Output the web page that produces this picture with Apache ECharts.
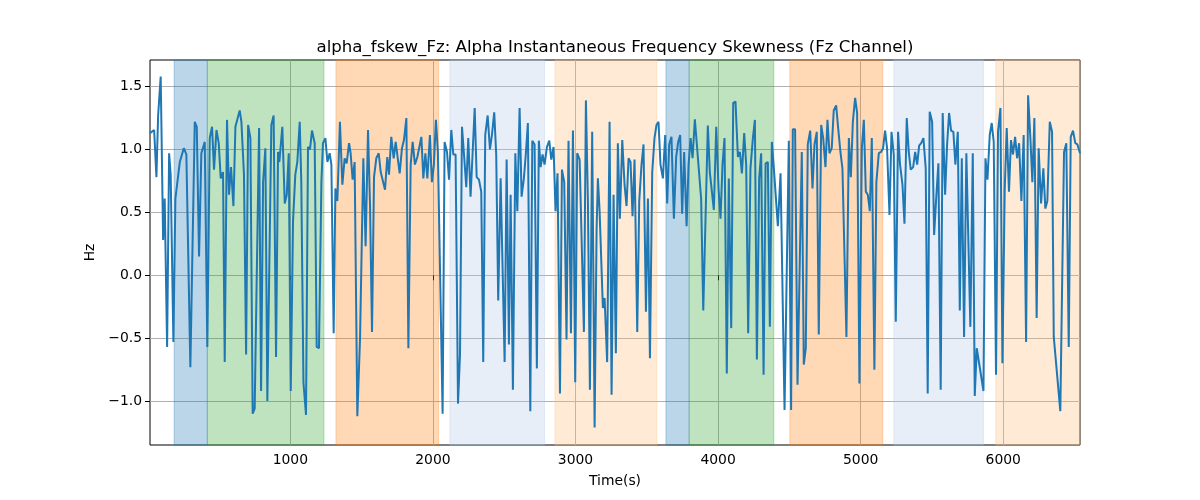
<!DOCTYPE html>
<html><head><meta charset="utf-8">
<script src="https://cdn.jsdelivr.net/npm/echarts@6/dist/echarts.min.js"></script>
<style>html,body{margin:0;padding:0;background:#fff}#c{width:1200px;height:500px}</style>
</head><body><div id="c"></div>
<script>
const times = [
 16,45,61,73,91,108,119,136,150,161,180,194,225,236,253,271,299,330,344,360,376,400,418,435,451,465,482,498,512,528,540,556,570,584,601,615,629,645,
 657,675,690,704,720,736,750,781,795,809,825,839,867,883,900,914,923,944,961,975,989,1003,1019,1035,1049,1066,1077,1092,1110,1124,1138,1152,1171,1185,1201,1218,1229,1246,1260,
 1276,1288,1304,1316,1330,1348,1365,1381,1395,1412,1423,1437,1451,1470,1489,1512,1528,1545,1559,1573,1587,1603,1620,1634,1648,1664,1680,1692,1708,1725,1739,1753,1767,1783,1797,1814,1828,1844,1858,1874,1891,
 1919,1933,1947,1961,1979,1993,2007,2021,2035,2068,2082,2099,2113,2129,2143,2159,2176,2190,2204,2220,2234,2248,2264,2278,2293,2307,2323,2339,2353,2367,2384,2400,2414,2430,2444,2458,2475,2503,2517,
 2533,2545,2561,2578,2592,2608,2622,2638,2652,2666,2683,2697,2713,2729,2743,2755,2769,2783,2800,2816,2830,2846,2860,2874,2891,2905,2921,2937,2951,2968,2982,2998,3012,3029,3059,3073,3087,3101,3117,3134,3148,
 3157,3169,3192,3204,3222,3239,3253,3267,3283,3297,3311,3328,3344,3358,3372,3386,3400,3414,3433,3447,3463,3477,3494,3508,3522,3538,3554,3568,3582,3596,3613,3629,3643,3657,3673,3690,3706,3720,3734,3748,3762,3779,3793,
 3807,3821,3837,3881,3896,3928,3942,3970,3987,4003,4017,4031,4045,4061,4075,4092,4106,4122,4139,4153,4167,4183,4197,4211,4227,4244,4258,4272,4288,4302,4319,4333,4349,4363,4377,4391,4405,
 4419,4438,4466,4496,4512,4524,4540,4557,4587,4601,4615,4629,4646,4662,4676,4692,4706,4723,4737,4753,4767,4781,4797,4811,4828,4842,4858,4872,4886,4900,4917,4931,4945,4961,4975,4991,5008,5022,5036,
 5050,5064,5078,5096,5110,5127,5143,5157,5171,5185,5202,5216,5232,5246,5262,5276,5293,5307,5323,5337,5351,5368,5382,5396,5410,5424,5440,5456,5470,5484,5501,5515,5531,5545,5561,5575,5592,5606,5620,5634,5650,5664,
 5681,5695,5709,5725,5741,5769,5786,5800,5814,5861,5875,5889,5905,5919,5933,5949,5963,5980,5994,6010,6024,6040,6054,6068,6083,6097,6111,6127,6143,6160,6174,6190,6204,6218,6234,6248,6265,6281,6295,6309,6326,6342,
 6354,6400,6426,6442,6459,6473,6489,6505,6520,6538
];
const values = [
 1.13,1.155,0.78,1.27,1.58,0.28,0.61,-0.57,0.97,0.80,-0.53,0.61,0.90,0.90,1.01,0.96,-0.73,1.22,1.18,0.15,0.97,1.06,-0.57,1.09,1.18,0.84,1.155,1.05,0.77,0.82,-0.69,1.235,0.64,0.86,0.55,1.18,1.17,1.31,
 1.22,0.80,-0.63,1.195,1.09,-1.10,-1.06,1.17,-0.92,0.74,1.01,-1.00,1.195,1.27,-0.65,0.98,0.90,1.18,0.57,0.64,0.97,-0.92,0.43,0.80,0.90,1.22,0.74,-0.85,-1.11,1.02,1.00,1.15,1.05,-0.57,-0.58,0.74,1.05,1.09,0.90,
 0.97,0.88,-0.46,0.69,0.59,1.22,0.72,0.93,0.89,1.05,0.97,0.76,0.90,-1.12,-0.50,0.93,0.23,1.155,0.56,-0.45,0.78,0.93,0.97,0.82,0.81,0.68,0.94,0.80,1.10,0.93,1.06,1.075,0.81,1.01,1.075,1.25,-0.58,0.88,1.06,0.88,0.94,
 1.10,0.77,0.97,0.77,1.115,0.74,0.88,1.235,0.98,-1.10,1.06,0.98,0.76,1.155,0.96,0.96,-1.02,-0.63,1.18,0.93,0.70,1.09,0.625,0.96,1.33,0.78,0.76,0.665,-0.69,1.115,1.27,1.00,1.115,1.295,0.96,-0.20,0.77,-0.69,0.92,
 -0.55,0.64,-0.91,0.97,0.51,1.33,0.625,0.77,0.97,1.21,-1.08,1.07,1.04,-0.74,1.07,0.86,0.96,0.88,1.02,1.07,0.92,1.02,0.51,0.81,-0.94,0.84,0.74,-0.51,1.07,-0.46,1.15,-0.85,0.97,0.92,-0.45,1.39,0.59,-0.91,1.14,-1.21,0.37,
 0.77,0.51,-0.26,-0.18,-0.69,1.22,-0.95,0.64,-0.62,1.05,0.45,1.075,0.72,0.55,0.93,0.90,0.47,0.92,-0.45,0.59,0.88,1.04,-0.29,0.61,-0.66,0.82,1.09,1.195,1.22,0.88,0.77,1.115,0.57,1.04,1.10,0.45,0.94,1.06,1.115,0.49,0.98,0.39,0.88,
 1.09,0.93,1.24,0.61,-0.28,1.19,0.82,0.52,1.18,0.69,0.45,0.88,1.09,-0.78,0.77,-0.42,1.37,1.38,0.94,0.98,0.81,1.13,0.88,-0.46,0.85,1.09,1.235,-0.67,0.77,0.97,-0.79,0.89,0.90,-0.41,1.06,0.85,0.84,
 0.39,0.81,-1.07,1.07,-1.07,1.16,1.16,-0.87,0.98,-0.71,-0.58,1.04,1.15,0.69,1.04,1.14,-0.47,1.195,1.09,0.86,1.235,0.97,1.01,1.31,1.35,1.17,0.98,0.85,0.86,-0.49,1.09,0.78,1.22,1.41,1.29,-0.86,1.01,1.235,0.665,
 0.64,0.51,1.09,-0.75,0.74,0.97,0.98,1.01,1.15,1.01,0.48,1.14,0.96,-0.37,1.14,0.88,0.72,0.41,1.25,0.98,0.84,0.86,0.98,0.88,1.03,1.05,1.09,0.85,-0.94,1.30,1.22,0.32,0.64,0.89,-0.91,1.29,0.64,1.04,1.29,1.15,1.14,0.88,
 1.14,-0.28,0.93,-0.49,0.97,-0.41,0.97,-0.96,-0.58,-0.92,0.93,0.76,1.115,1.21,1.06,-0.79,1.14,1.33,-0.70,0.68,1.17,0.665,1.075,0.96,1.10,0.93,1.05,0.59,1.115,-0.53,1.43,1.09,0.74,1.25,-0.34,1.01,0.57,0.85,0.53,0.59,1.22,1.14,
 -0.49,-1.08,0.98,1.05,-0.57,1.10,1.15,1.05,1.04,0.97
];
const spanStarts = [185, 418, 1320, 2119, 2856, 3634, 3797, 4503, 5232, 5947];
const spanEnds   = [418, 1236, 2040, 2783, 3571, 3797, 4391, 5155, 5861, 6538];
const spanKinds  = ['blue','green','orange','lightblue','lightorange','blue','green','orange','lightblue','lightorange'];
const xTicks = [1000, 2000, 3000, 4000, 5000, 6000];
const yTicks = [-1.0, -0.5, 0.0, 0.5, 1.0, 1.5];
const xRange = [16, 6538];
const yRange = [-1.349, 1.711];
const titleText = 'alpha_fskew_Fz: Alpha Instantaneous Frequency Skewness (Fz Channel)';

const kindColor = {
  blue: 'rgba(31,119,180,0.3)',
  green: 'rgba(44,160,44,0.3)',
  orange: 'rgba(255,127,14,0.3)',
  lightblue: 'rgba(174,199,232,0.3)',
  lightorange: 'rgba(255,187,120,0.3)'
};
const FONT = 'DejaVu Sans';
const fmtY = v => (v < 0 ? '\u2212' : '') + Math.abs(v).toFixed(1);
const fmtX = v => String(Math.round(v));

const chart = echarts.init(document.getElementById('c'), null, {renderer: 'canvas'});
chart.setOption({
  animation: false,
  backgroundColor: '#fff',
  title: {
    text: titleText, left: 610, top: 34, textAlign: 'center',
    textStyle: {fontFamily: FONT, fontSize: 16.6, fontWeight: 'normal', color: '#000'}
  },
  grid: {left: 150, right: 120, top: 60, bottom: 55, show: true, borderColor: '#000', borderWidth: 1, backgroundColor: 'transparent'},
  xAxis: {
    type: 'value', min: xRange[0], max: xRange[1], minInterval: 1000, maxInterval: 1000,
    axisLine: {show: false},
    axisTick: {show: true, length: 5, lineStyle: {color: '#000', width: 1}, customValues: xTicks},
    axisLabel: {customValues: xTicks, color: '#000', fontFamily: FONT, fontSize: 13.9, margin: 8, formatter: fmtX},
    splitLine: {show: true, lineStyle: {color: '#b0b0b0', width: 1}},
    name: 'Time(s)', nameLocation: 'middle', nameGap: 29,
    nameTextStyle: {fontFamily: FONT, fontSize: 13.9, color: '#000'}
  },
  yAxis: {
    type: 'value', min: yRange[0], max: yRange[1], minInterval: 0.5, maxInterval: 0.5,
    axisLine: {show: false},
    axisTick: {show: true, length: 5, lineStyle: {color: '#000', width: 1}, customValues: yTicks},
    axisLabel: {customValues: yTicks, color: '#000', fontFamily: FONT, fontSize: 13.9, margin: 8, formatter: fmtY},
    splitLine: {show: true, lineStyle: {color: '#b0b0b0', width: 1}},
    name: 'Hz', nameLocation: 'middle', nameGap: 50, nameRotate: 90,
    nameTextStyle: {fontFamily: FONT, fontSize: 13.9, color: '#000'}
  },
  series: [
    {
      type: 'line', data: [], z: 1, silent: true,
      markArea: {
        silent: true,
        data: spanStarts.map((s, i) => [
          {xAxis: s, itemStyle: {color: kindColor[spanKinds[i]], borderColor: kindColor[spanKinds[i]], borderWidth: 1}},
          {xAxis: spanEnds[i]}
        ])
      }
    },
    {
      type: 'line', z: 3,
      data: times.map((t, i) => [t, values[i]]),
      showSymbol: false, symbol: 'none',
      lineStyle: {color: '#1f77b4', width: 2},
      itemStyle: {color: '#1f77b4'}
    }
  ]
});
</script>
</body></html>
